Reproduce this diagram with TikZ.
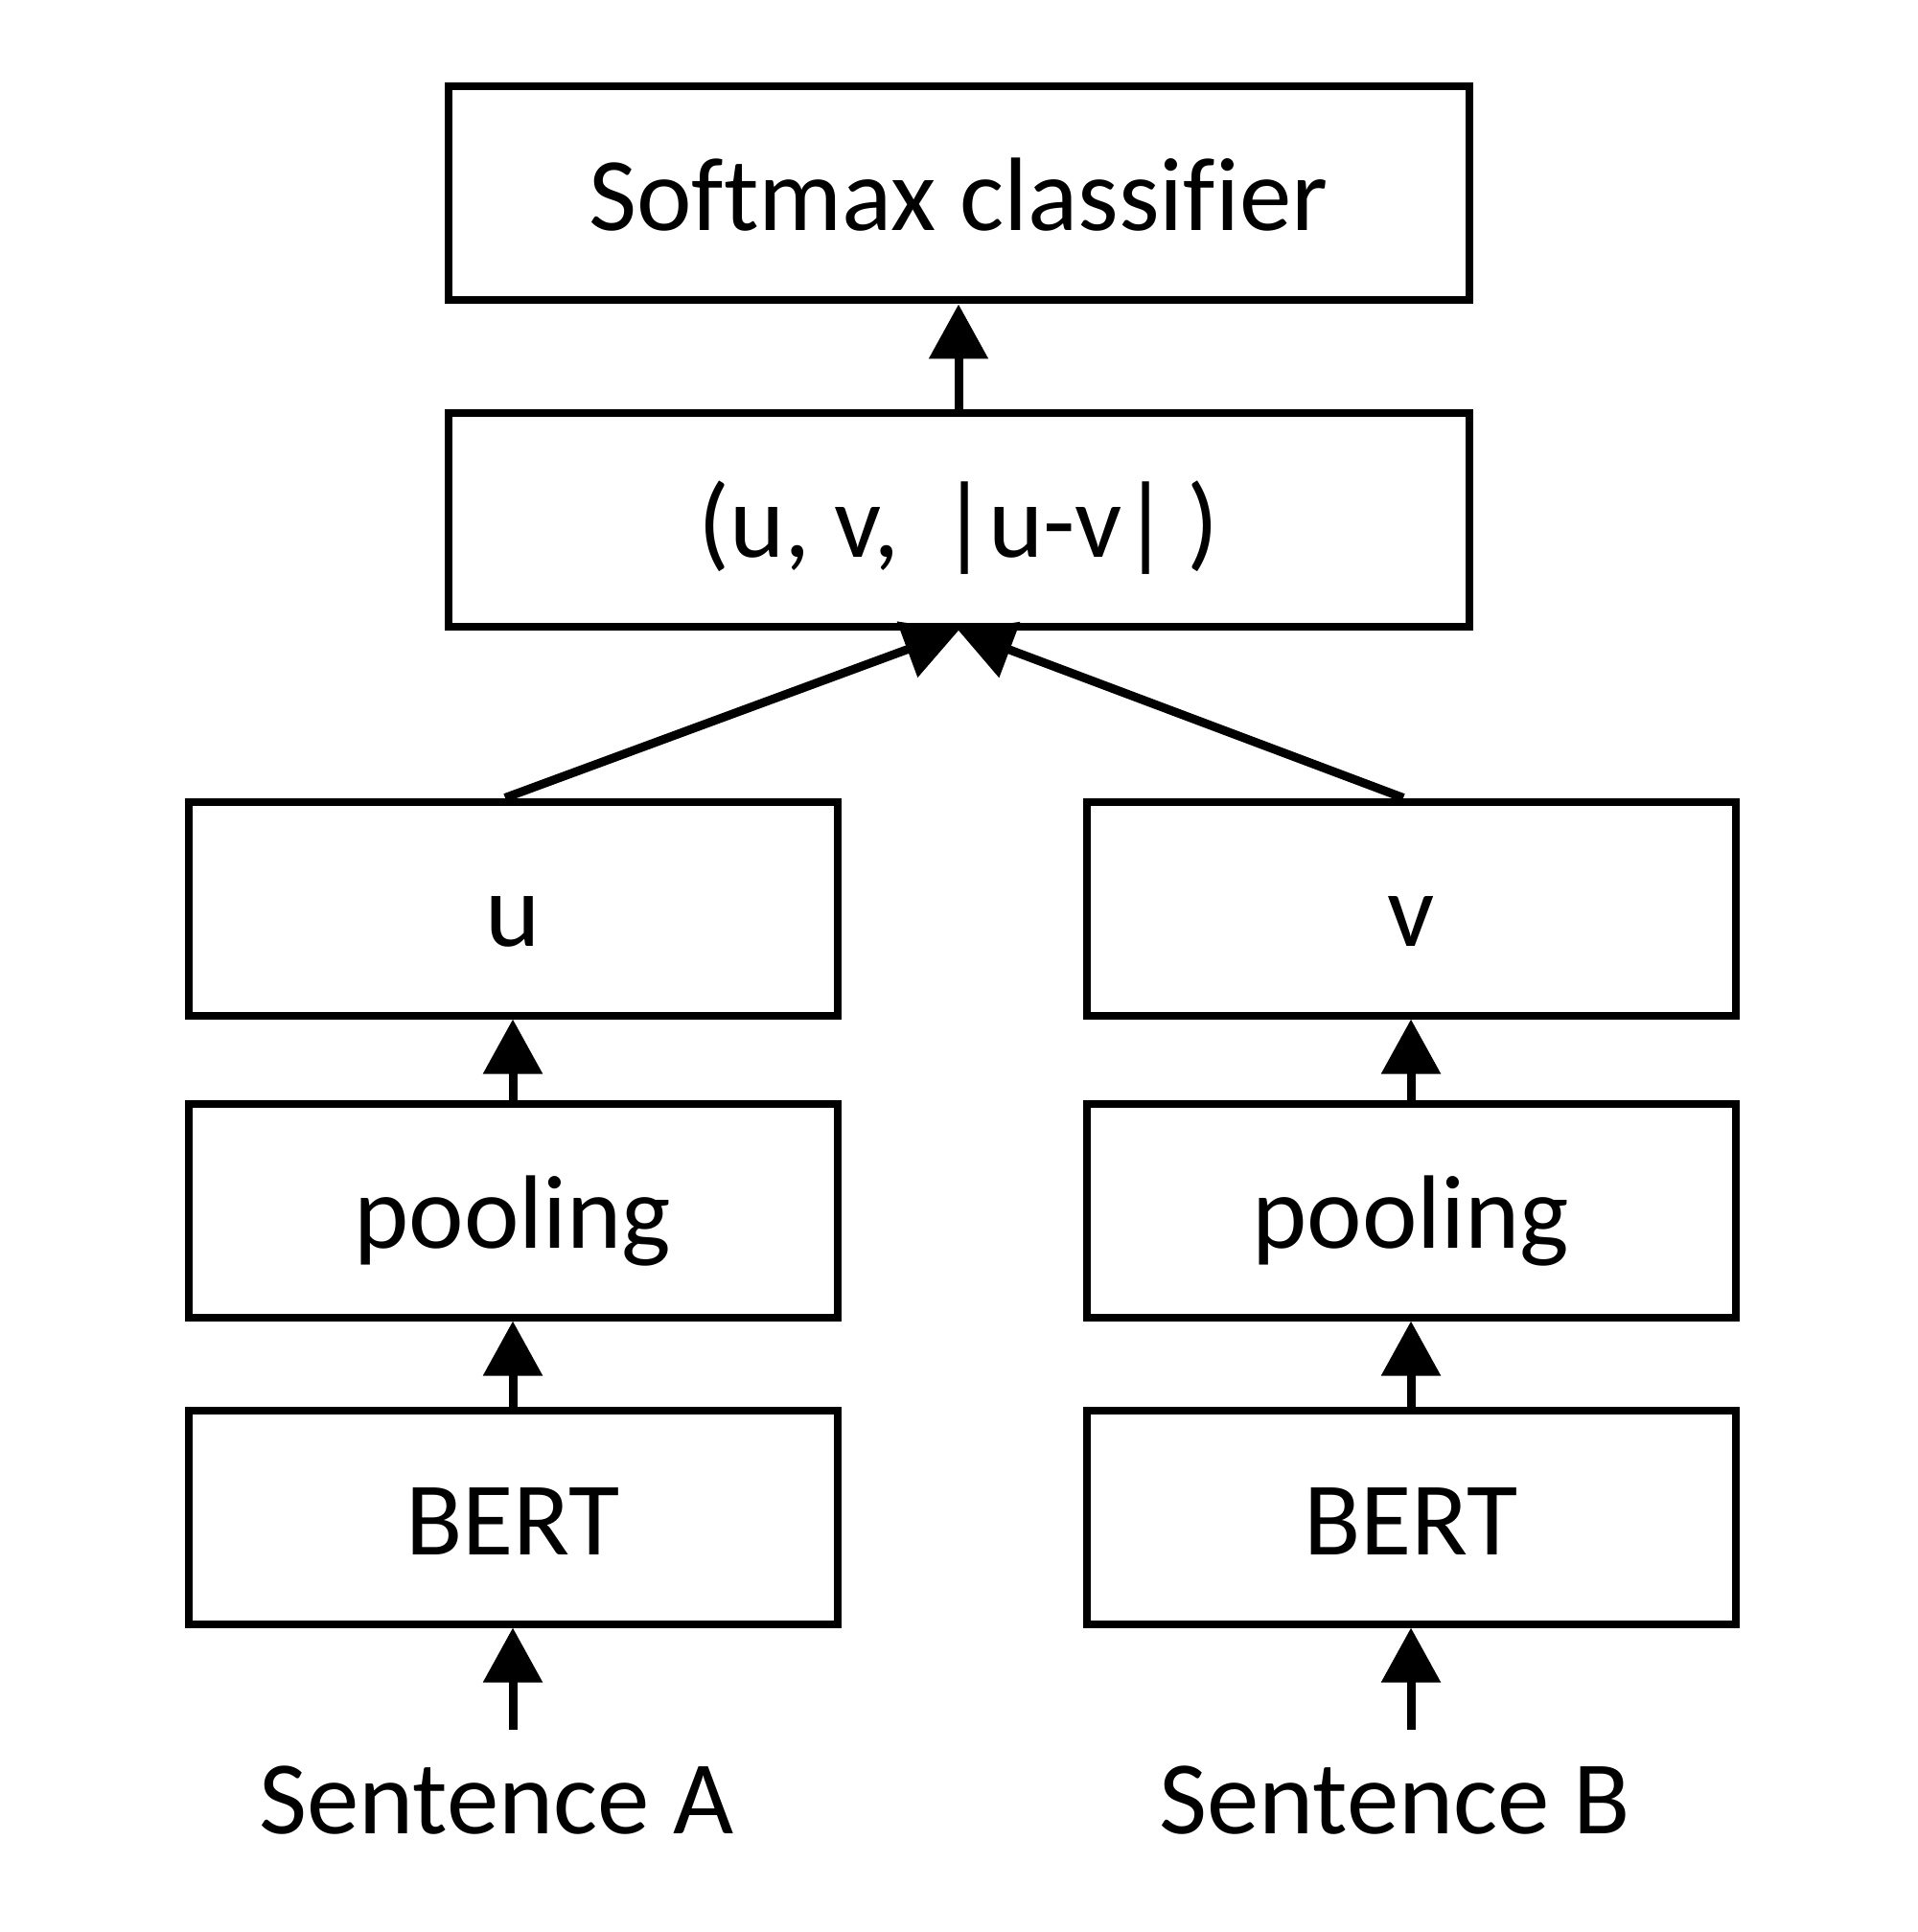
\documentclass[tikz,border=0pt]{standalone}
\usepackage{fontspec}
\setmainfont[Ligatures=NoCommon]{Carlito}
\usetikzlibrary{arrows.meta}

\begin{document}
\begin{tikzpicture}[x=1cm,y=1cm,
    box/.style={draw,line width=0.08cm,minimum height=2.23cm,inner sep=0pt,
      text height=0.98cm,text depth=0.2cm},
    flow/.style={line width=0.09cm,-{Triangle[length=0.57cm,width=0.60cm]}}]
  \useasboundingbox (0,0) rectangle (20,-20.16);
  \fontsize{31}{37}\selectfont

  % Oben: Klassifikator und Verkettung.
  \node[box,minimum width=10.65cm] (softmax) at (10,-2.02) {Softmax classifier};
  \node[box,minimum width=10.65cm] (concat) at (10,-5.425) {(u, v, \,|u-v|\,)};

  % Zwei Zweige, je einer pro Satz.
  \foreach \s/\x/\e in {A/5.35/u,B/14.72/v}{
    \node[box,minimum width=6.77cm] (emb\s) at (\x,-9.48) {\e};
    \node[box,minimum width=6.77cm] (pool\s) at (\x,-12.63) {pooling};
    \node[box,minimum width=6.77cm] (bert\s) at (\x,-15.83) {BERT};
    \node[anchor=base] (sent\s) at (\x-0.17,-19.13) {Sentence \s};
    \draw[flow] (sent\s.north -| bert\s.south) -- (bert\s.south);
    \draw[flow] (bert\s) -- (pool\s);
    \draw[flow] (pool\s) -- (emb\s);
    \draw[flow] ([xshift=-0.08cm]emb\s.north) -- (concat.south);
  }

  \draw[flow] (concat) -- (softmax);
\end{tikzpicture}
\end{document}
